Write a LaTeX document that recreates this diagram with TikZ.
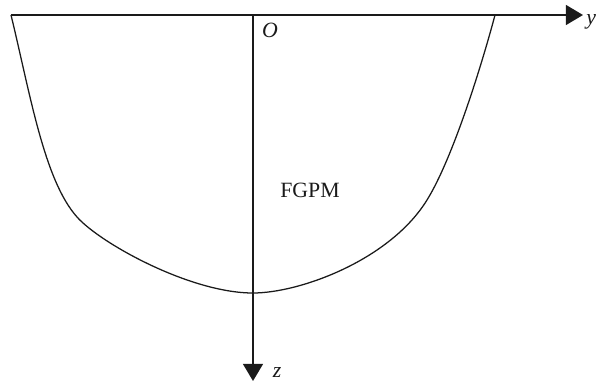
\documentclass[tikz,border=0pt]{standalone}
\usepackage{fontspec}
\setmainfont{Liberation Serif}
\usetikzlibrary{arrows.meta,positioning}
\definecolor{Ink}{HTML}{1A1A1A}
\tikzset{
  axis/.style={-{Triangle[length=4.3mm,width=5mm]},line width=1.3pt,draw=Ink},
  rim/.style={line width=0.9pt,draw=Ink},
  lbl/.style={font=\fontsize{15.5}{18}\selectfont,text=Ink,inner sep=0pt},
}
\begin{document}
\begin{tikzpicture}[x=0.025cm,y=-0.025cm]
\useasboundingbox (0,0) rectangle (597,381);
\coordinate (yl) at (11,15);
\coordinate (yr) at (583,15);
\coordinate (o) at (253,15);
\coordinate (zb) at (253,381);
\coordinate (lk) at (77,217);
\coordinate (bot) at (253,293);
\coordinate (rk) at (427,200);
\coordinate (rt) at (495,15);
\draw[axis] (yl)--(yr);
\draw[axis] (o)--(zb);
% graded layer boundary
\draw[rim] (yl) .. controls (30,93) and (44,180) .. (lk)
  .. controls (100,243) and (190,293) .. (bot)
  .. controls (300,293) and (390,260) .. (rk)
  .. controls (453,158) and (482,64) .. (rt);
\node[lbl] (olbl) at (270,30) {\textit{O}};
\node[lbl,anchor=west] (ylbl) at (586,22) {\textit{y}};
\node[lbl] (zlbl) at (277,372) {\textit{z}};
\node[lbl] (fgpm) at (310,190) {FGPM};
\end{tikzpicture}
\end{document}
